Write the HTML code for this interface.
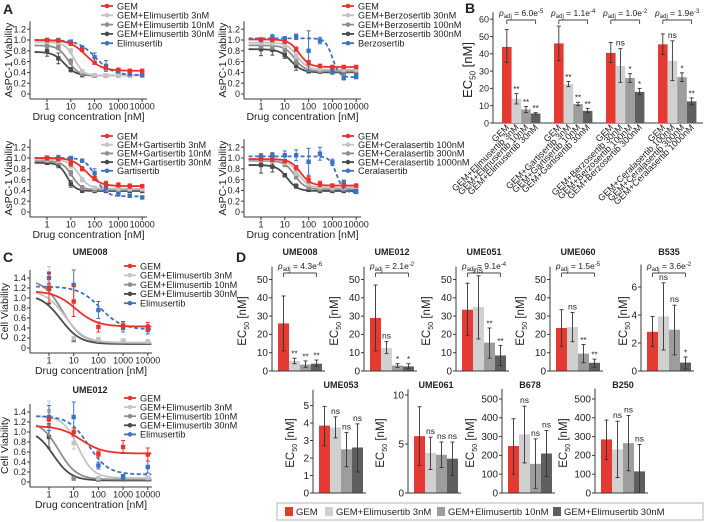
<!DOCTYPE html>
<html><head><meta charset="utf-8">
<style>
html,body{margin:0;padding:0;background:#fff;}
svg{display:block;font-family:"Liberation Sans",Arial,sans-serif;}
</style></head>
<body>
<svg id="fig" width="705" height="522" viewBox="0 0 705 522" xmlns="http://www.w3.org/2000/svg"></svg>
<script>
// ---------- DATA ----------
const concA = [1,3,10,30,100,300,1000,3000,10000];
const concC = [1,10,100,1000,10000];
const xTickVals = [1,10,100,1000,10000];
const yTicksA = [0,0.2,0.4,0.6,0.8,1.0,1.2];
const yTicksC = [0,0.2,0.4,0.6,0.8,1.0,1.2,1.4];

// A1 Elimusertib
const a1Names = ["GEM","GEM+Elimusertib 3nM","GEM+Elimusertib 10nM","GEM+Elimusertib 30nM","Elimusertib"];
const a1Top = [1.0,0.96,0.9,0.78,1.0];
const a1Bot = [0.43,0.34,0.34,0.34,0.35];
const a1EC = [44,14,7.8,5.5,110];
const a1Hill = [1.3,2.2,2.0,1.8,1.2];
const a1Vals = [[1.0,0.99,0.93,0.82,0.58,0.48,0.45,0.43,0.43],[0.97,0.95,0.8,0.42,0.35,0.34,0.34,0.34,0.34],[0.9,0.87,0.6,0.37,0.34,0.34,0.34,0.34,0.34],[0.8,0.66,0.45,0.35,0.34,0.34,0.34,0.34,0.34],[1.0,1.0,0.97,0.86,0.68,0.52,0.42,0.37,0.35]];
const a1Err = [[.03,.02,.03,.03,.03,.03,.02,.02,.02],[.03,.03,.04,.03,.02,.02,.02,.02,.02],[.04,.05,.05,.03,.02,.02,.02,.02,.02],[.1,.1,.04,.03,.02,.02,.02,.02,.02],[.02,.02,.02,.03,.08,.1,.02,.02,.02]];
// A2 Berzosertib
const a2Names = ["GEM","GEM+Berzosertib 30nM","GEM+Berzosertib 100nM","GEM+Berzosertib 300nM","Berzosertib"];
const a2Top = [1.01,0.95,0.9,0.83,1.03];
const a2Bot = [0.5,0.45,0.42,0.4,0.31];
const a2EC = [40,33,26,18,1000];
const a2Hill = [2,2,2,1.8,3];
const a2Vals = [[1.01,1.0,0.97,0.83,0.58,0.52,0.5,0.5,0.5],[0.95,0.94,0.9,0.7,0.5,0.46,0.45,0.45,0.45],[0.9,0.88,0.82,0.6,0.45,0.42,0.42,0.42,0.42],[0.83,0.82,0.72,0.52,0.42,0.41,0.4,0.4,0.4],[1.0,1.05,1.03,1.06,0.8,0.99,0.42,0.3,0.32]];
const a2Err = [[.03,.03,.03,.04,.04,.03,.03,.03,.03],[.04,.04,.04,.05,.03,.03,.03,.03,.03],[.05,.05,.05,.05,.03,.03,.03,.03,.03],[.12,.1,.06,.08,.03,.03,.03,.03,.03],[.03,.05,.03,.05,.37,.06,.04,.04,.04]];
// A3 Gartisertib
const a3Names = ["GEM","GEM+Gartisertib 3nM","GEM+Gartisertib 10nM","GEM+Gartisertib 30nM","Gartisertib"];
const a3Top = [1.0,0.97,0.94,0.91,1.0];
const a3Bot = [0.48,0.43,0.41,0.39,0.29];
const a3EC = [46,22,11,7,110];
const a3Hill = [1.5,2,2.2,2.5,2];
const a3Vals = [[1.0,0.98,0.9,0.8,0.62,0.52,0.5,0.48,0.48],[0.97,0.95,0.85,0.6,0.45,0.43,0.43,0.43,0.43],[0.95,0.92,0.72,0.45,0.41,0.41,0.41,0.41,0.41],[0.91,0.88,0.52,0.4,0.39,0.39,0.39,0.39,0.39],[1.0,1.0,1.0,0.95,0.72,0.45,0.33,0.3,0.27]];
const a3Err = [[.04,.03,.05,.04,.04,.05,.04,.04,.03],[.03,.03,.04,.04,.03,.03,.03,.03,.03],[.03,.04,.05,.04,.03,.03,.03,.03,.03],[.03,.06,.06,.04,.03,.03,.03,.03,.03],[.02,.05,.02,.02,.08,.04,.02,.02,.02]];
// A4 Ceralasertib
const a4Names = ["GEM","GEM+Ceralasertib 100nM","GEM+Ceralasertib 300nM","GEM+Ceralasertib 1000nM","Ceralasertib"];
const a4Top = [0.98,0.97,0.95,0.87,1.03];
const a4Bot = [0.49,0.45,0.42,0.39,0.36];
const a4EC = [45,36,26,12.5,1500];
const a4Hill = [2,2,2,2,3];
const a4Vals = [[0.98,0.97,0.94,0.82,0.6,0.52,0.49,0.49,0.49],[0.97,0.96,0.92,0.72,0.52,0.46,0.45,0.45,0.45],[0.95,0.94,0.88,0.65,0.46,0.42,0.42,0.42,0.42],[0.87,0.84,0.68,0.48,0.41,0.39,0.39,0.39,0.39],[1.03,1.05,1.05,1.05,0.93,1.08,0.92,0.55,0.38]];
const a4Err = [[.03,.03,.03,.04,.06,.05,.03,.03,.03],[.03,.03,.04,.04,.04,.03,.03,.03,.03],[.03,.03,.04,.04,.04,.03,.03,.03,.03],[.15,.1,.03,.04,.03,.03,.03,.03,.03],[.05,.05,.08,.1,.25,.12,.06,.04,.04]];
// C UME008
const c1Names = ["GEM","GEM+Elimusertib 3nM","GEM+Elimusertib 10nM","GEM+Elimusertib 30nM","Elimusertib"];
const c1Top = [1.14,1.15,1.38,1.07,1.23];
const c1Bot = [0.43,0.11,0.1,0.08,0.37];
const c1EC = [12,4.5,3.5,3,120];
const c1Hill = [1,1.1,1.1,1.1,1];
const c1Vals = [[1.2,0.93,0.42,0.45,0.43],[1.28,0.2,0.18,0.15,0.13],[1.2,0.17,0.15,0.14,0.13],[1.18,0.16,0.13,0.13,0.12],[1.4,1.26,0.76,0.42,0.36]];
const c1Err = [[.3,.3,.1,.08,.08],[.35,.03,.03,.03,.03],[.3,.03,.03,.03,.03],[.3,.03,.03,.03,.03],[.12,.3,.17,.1,.08]];
// C UME012
const c2Top = [1.12,1.32,1.22,1.05,1.32];
const c2Bot = [0.57,0.08,0.05,0.03,0.15];
const c2EC = [20,15,2.5,1.5,40];
const c2Hill = [1,1.4,1.2,1.2,1.1];
const c2Vals = [[1.25,1.0,0.56,0.7,0.55],[1.42,0.78,0.08,0.1,0.08],[1.3,0.07,0.06,0.1,0.08],[0.9,0.07,0.05,0.06,0.06],[1.28,1.3,0.33,0.1,0.3]];
const c2Err = [[.08,.08,.06,.13,.13],[.2,.12,.03,.03,.03],[.15,.03,.03,.03,.03],[.22,.03,.03,.03,.03],[.25,.3,.07,.05,.12]];

// B bars
const bLabels = [["GEM","GEM+Elimusertib 3nM","GEM+Elimusertib 10nM","GEM+Elimusertib 30nM"],["GEM","GEM+Gartisertib 3nM","GEM+Gartisertib 10nM","GEM+Gartisertib 30nM"],["GEM","GEM+Berzosertib 30nM","GEM+Berzosertib 100nM","GEM+Berzosertib 300nM"],["GEM","GEM+Ceralasertib 100nM","GEM+Ceralasertib 300nM","GEM+Ceralasertib 1000nM"]];
const bVals = [[44,14,7.8,5.5],[46,22.5,11,7],[40.5,33,26,18],[45.5,36,26.5,12.5]];
const bLo = [[35,11,6,5],[36,21,10,6],[35,23.5,23.5,16.5],[39.5,24.5,24,10.5]];
const bHi = [[54,17,9.5,6],[56,24,12,8.5],[46.5,43,28.5,20],[51.5,47.5,29,14.5]];
const bSig = [["","**","**","**"],["","**","**","**"],["","ns","*","*"],["","ns","*","**"]];
const bP = [["6.0","-5"],["1.1","-4"],["1.0","-2"],["1.9","-3"]];
const bTicks = [0,10,20,30,40,50,60];

// D bars
const dTitles = ["UME008","UME012","UME051","UME060","B535","UME053","UME061","B678","B250"];
const dVals = [[26,5.5,3.5,4],[29,12.5,3,2.5],[33.5,35,15.5,8.5],[23.5,24,9.5,4.5],[2.8,3.9,2.95,0.6],[3.85,3.75,2.5,2.6],[5.8,4.1,3.9,3.5],[250,312,155,210],[285,232,265,115]];
const dLo = [[11,4,2,2.5],[11,9.5,2,1.5],[19.5,17.5,7,3],[13.5,16,4.5,2],[1.75,1.5,1.15,0.15],[2.7,3.15,1.5,1.2],[2.8,2.4,2.6,1.8],[100,160,25,88],[178,82,118,0]];
const dHi = [[41,7,5.5,6],[47,16,4,4],[48,52,23.5,14],[33.5,32,14.5,6.5],[3.9,6.3,4.7,1.0],[4.95,4.35,3.45,3.95],[8.8,5.7,5.2,5.2],[395,462,288,332],[388,382,412,258]];
const dSig = [["","**","**","**"],["","ns","*","*"],["","ns","**","**"],["","ns","**","**"],["","ns","ns","*"],["","ns","ns","ns"],["","ns","ns","ns"],["","ns","ns","ns"],["","ns","ns","ns"]];
const dP = [["4.3","-6"],["2.1","-2"],["9.1","-4"],["1.5","-5"],["3.6","-2"],null,null,null,null];
const dTicks = [[0,10,20,30,40,50],[0,10,20,30,40,50],[0,10,20,30,40,50],[0,10,20,30,40,50],[0,2,4,6],[0,1,2,3,4,5],[0,5,10],[0,100,200,300,400,500],[0,100,200,300,400,500]];
const legendNames = ["GEM","GEM+Elimusertib 3nM","GEM+Elimusertib 10nM","GEM+Elimusertib 30nM"];

// ---------- DRAWING ----------
const NS = "http://www.w3.org/2000/svg";
const svg = document.getElementById("fig");
const curveCols = ["#e8332c","#c4c4c4","#8e8e8e","#4a4a4a","#3c72c2"];
const barCols = ["#e53a32","#d0d0d0","#9d9d9d","#5f5f5f"];
const AX = "#3a3a3a";

function mk(tag, attrs, parent) {
  const el = document.createElementNS(NS, tag);
  for (const k in attrs) el.setAttribute(k, attrs[k]);
  (parent || svg).appendChild(el);
  return el;
}
function line(x1,y1,x2,y2,stroke,w,name,parent){
  const el = mk("line",{x1:x1,y1:y1,x2:x2,y2:y2,stroke:stroke,"stroke-width":w},parent);
  
  
  return el;
}
function txt(x,y,s,size,anchor,name,extra){
  const el = mk("text",Object.assign({x:x,y:y,"font-size":size,"text-anchor":anchor||"start",fill:"#222"},extra||{}));
  el.textContent = s;
  
  
  return el;
}
function grp(name){
  const g = mk("g",{});
  
  
  return g;
}
function logistic(c,t,b,e,h){ return b + (t-b)/(1+Math.pow(c/e,h)); }

function curvePanel(cfg){
  const g = grp(cfg.name);
  const xs = c => cfg.x1 + Math.log10(c)*cfg.dec;
  const ys = v => cfg.y0 - v*cfg.ppu;
  const bottom = cfg.y0 + 5;
  const topY = ys(cfg.yTicks[cfg.yTicks.length-1]) - 8;
  line(cfg.xLeft, topY, cfg.xLeft, bottom, AX, 1, "y-axis", g);
  line(cfg.xLeft, bottom, cfg.xRight, bottom, AX, 1, "x-axis", g);
  cfg.yTicks.forEach(v=>{
    line(cfg.xLeft-3, ys(v), cfg.xLeft, ys(v), AX, 1, "y-tick", g);
    txt(cfg.xLeft-4, ys(v)+3.2, v===0 ? "0" : v.toFixed(1), 9, "end", "y-tick-label");
  });
  xTickVals.forEach(c=>{
    line(xs(c), bottom, xs(c), bottom+3, AX, 1, "x-tick", g);
    txt(xs(c), bottom+10.5, String(c), 9, "middle", "x-tick-label");
  });
  txt((cfg.xLeft+cfg.xRight)/2, bottom+21, "Drug concentration [nM]", 10.5, "middle", "x-axis-title");
  const yl = txt(cfg.ylabX, (topY+bottom)/2, cfg.ylabel, 10.5, "middle", "y-axis-title");
  yl.setAttribute("transform", `rotate(-90 ${cfg.ylabX} ${(topY+bottom)/2})`);
  const order = [3,2,1,4,0];
  order.forEach(i=>{
    const col = curveCols[i];
    let d = "";
    for (let k=0;k<=120;k++){
      const lc = Math.log10(0.3) + k*(Math.log10(cfg.xMax)-Math.log10(0.3))/120;
      const c = Math.pow(10,lc);
      d += (k?"L":"M") + xs(c).toFixed(2) + "," + ys(logistic(c,cfg.top[i],cfg.bot[i],cfg.ec[i],cfg.hill[i])).toFixed(2);
    }
    const p = mk("path",{d:d,fill:"none",stroke:col,"stroke-width":1.8,"stroke-dasharray": i===4?"4,2.5":"none"},g);
    
    
    cfg.conc.forEach((c,j)=>{
      const v = cfg.vals[i][j], e = cfg.errs[i][j];
      const x = xs(c);
      line(x, ys(v-e), x, ys(v+e), col, 1, "error-bar", g);
      line(x-2, ys(v-e), x+2, ys(v-e), col, 1, "error-cap", g);
      line(x-2, ys(v+e), x+2, ys(v+e), col, 1, "error-cap", g);
      const pt = mk("rect",{x:x-2.2,y:ys(v)-2.2,width:4.4,height:4.4,fill:col},g);
      
      
    });
  });
  cfg.names.forEach((n,i)=>{
    const y = cfg.legY + i*cfg.legStep;
    const col = curveCols[i];
    line(cfg.legX-6, y, cfg.legX+6, y, col, 1.8, "legend-line", g);
    const pt = mk("circle",{cx:cfg.legX,cy:y,r:2.3,fill:col},g);
    
    
    txt(cfg.legX+10, y+3.3, n, 9.2, "start", "legend-entry");
  });
}

function ptext(x,y,p,name){
  const t = txt(x,y,"",8.5,"middle",name);
  const a = mk("tspan",{"font-style":"italic"},t); a.textContent="p";
  const b = mk("tspan",{"font-size":6,dy:2}, t); b.textContent="adj";
  const c = mk("tspan",{dy:-2}, t); c.textContent=" = "+p[0]+"e";
  const d = mk("tspan",{"font-size":6,dy:-3}, t); d.textContent=p[1];
}
function ec50Label(x,cy,size,name){
  const t = txt(x,cy,"",size,"middle",name);
  const a = mk("tspan",{},t); a.textContent="EC";
  const b = mk("tspan",{"font-size":size*0.62,dy:size*0.25},t); b.textContent="50";
  const c = mk("tspan",{dy:-size*0.25},t); c.textContent=" [nM]";
  t.setAttribute("transform",`rotate(-90 ${x} ${cy})`);
}

function barGroup(g, start, bw, y0, ppu, vals, lo, hi, sig){
  const ys = v => y0 - v*ppu;
  vals.forEach((v,i)=>{
    const x = start + i*bw;
    const r = mk("rect",{x:x,y:ys(v),width:bw,height:v*ppu,fill:barCols[i]},g);
    
    
    const cx = x + bw/2;
    line(cx, ys(lo[i]), cx, ys(hi[i]), "#333", 0.9, "error-bar", g);
    line(cx-2, ys(lo[i]), cx+2, ys(lo[i]), "#333", 0.9, "error-cap", g);
    line(cx-2, ys(hi[i]), cx+2, ys(hi[i]), "#333", 0.9, "error-cap", g);
    if (sig[i]) txt(cx, ys(hi[i]) - (sig[i]==="ns"?3:1.5), sig[i], sig[i]==="ns"?8.5:8, "middle", "significance-label");
  });
}
function yAxisBars(g, ax, y0, ppu, ticks, top, size){
  const ys = v => y0 - v*ppu;
  line(ax, ys(top), ax, y0, AX, 1, "y-axis", g);
  ticks.forEach(v=>{
    line(ax-3, ys(v), ax, ys(v), AX, 1, "y-tick", g);
    txt(ax-4, ys(v)+3.3, String(v), size, "end", "y-tick-label");
  });
}

// Panel A
txt(3,14,"A",14,"start","panel-label-a",{"font-weight":"bold"});
curvePanel({name:"panel-a-elimusertib",x1:47,dec:23.8,y0:94,ppu:54,xLeft:30,xRight:147,xMax:12000,yTicks:yTicksA,conc:concA,names:a1Names,top:a1Top,bot:a1Bot,ec:a1EC,hill:a1Hill,vals:a1Vals,errs:a1Err,legX:107,legY:6,legStep:9.3,ylabel:"AsPC-1 Viability",ylabX:12});
curvePanel({name:"panel-a-berzosertib",x1:261,dec:23.8,y0:94,ppu:54,xLeft:244,xRight:361,xMax:12000,yTicks:yTicksA,conc:concA,names:a2Names,top:a2Top,bot:a2Bot,ec:a2EC,hill:a2Hill,vals:a2Vals,errs:a2Err,legX:348,legY:6,legStep:9.3,ylabel:"AsPC-1 Viability",ylabX:226});
curvePanel({name:"panel-a-gartisertib",x1:47,dec:23.8,y0:212,ppu:54,xLeft:30,xRight:147,xMax:12000,yTicks:yTicksA,conc:concA,names:a3Names,top:a3Top,bot:a3Bot,ec:a3EC,hill:a3Hill,vals:a3Vals,errs:a3Err,legX:107,legY:136,legStep:8.7,ylabel:"AsPC-1 Viability",ylabX:12});
curvePanel({name:"panel-a-ceralasertib",x1:261,dec:23.8,y0:212,ppu:54,xLeft:244,xRight:361,xMax:12000,yTicks:yTicksA,conc:concA,names:a4Names,top:a4Top,bot:a4Bot,ec:a4EC,hill:a4Hill,vals:a4Vals,errs:a4Err,legX:348,legY:136,legStep:8.7,ylabel:"AsPC-1 Viability",ylabX:226});

// Panel C
txt(3,262,"C",14,"start","panel-label-c",{"font-weight":"bold"});
txt(90,255,"UME008",9,"middle","panel-c-title-ume008",{"font-weight":"bold"});
curvePanel({name:"panel-c-ume008",x1:49,dec:24.7,y0:348,ppu:50,xLeft:30,xRight:152,xMax:14000,yTicks:yTicksC,conc:concC,names:c1Names,top:c1Top,bot:c1Bot,ec:c1EC,hill:c1Hill,vals:c1Vals,errs:c1Err,legX:130,legY:266,legStep:9.3,ylabel:"Cell Viability",ylabX:8});
txt(90,393,"UME012",9,"middle","panel-c-title-ume012",{"font-weight":"bold"});
curvePanel({name:"panel-c-ume012",x1:49,dec:24.7,y0:482,ppu:50,xLeft:30,xRight:152,xMax:14000,yTicks:yTicksC,conc:concC,names:c1Names,top:c2Top,bot:c2Bot,ec:c2EC,hill:c2Hill,vals:c2Vals,errs:c2Err,legX:130,legY:398,legStep:9.1,ylabel:"Cell Viability",ylabX:8});

// Panel B
txt(465,13,"B",14,"start","panel-label-b",{"font-weight":"bold"});
(function(){
  const g = grp("panel-b-ec50-bars");
  const y0 = 123, ppu = 1.73, bw = 9.6;
  yAxisBars(g, 493, y0, ppu, bTicks, 64, 9);
  line(493, y0, 703, y0, AX, 1, "x-axis", g);
  ec50Label(472, 70, 13, "y-axis-title");
  bVals.forEach((vals,gi)=>{
    const start = 502 + gi*52;
    barGroup(g, start, bw, y0, ppu, vals, bLo[gi], bHi[gi], bSig[gi]);
    const x1 = start + bw/2, x2 = start + 3.5*bw;
    line(x1, 20, x2, 20, "#444", 0.9, "bracket", g);
    line(x1, 20, x1, 24, "#444", 0.9, "bracket-tick", g);
    line(x2, 20, x2, 24, "#444", 0.9, "bracket-tick", g);
    ptext((x1+x2)/2, 16, bP[gi], "p-value-label");
    bLabels[gi].forEach((lab,i)=>{
      const cx = start + i*bw + bw/2 + 3, cy = 128;
      const t = txt(cx, cy, lab, 9, "end", "x-tick-label");
      t.setAttribute("transform", `rotate(-45 ${cx} ${cy})`);
    });
  });
})();

// Panel D
txt(236,262,"D",14,"start","panel-label-d",{"font-weight":"bold"});
const dAxisX = [272,364,456,550,641,313,408,502,595];
const dY0 = [371,371,371,371,371,493,493,493,493];
const dPpu = [1.83,1.83,1.83,1.83,14,17.5,9.8,0.188,0.188];
const dTop = [57,57,57,57,7.6,5.9,10.6,555,555];
const dLabOff = [26,26,26,26,14,19,24,28,28];
dTitles.forEach((title,k)=>{
  const g = grp("panel-d-" + title.toLowerCase());
  const ax = dAxisX[k], y0 = dY0[k], ppu = dPpu[k], bw = 11;
  yAxisBars(g, ax, y0, ppu, dTicks[k], dTop[k], 10);
  const start = ax + 6;
  barGroup(g, start, bw, y0, ppu, dVals[k], dLo[k], dHi[k], dSig[k]);
  line(ax, y0, start + 4*bw + 3, y0, AX, 1, "x-axis", g);
  ec50Label(ax - dLabOff[k], y0 - 50, 11.5, "y-axis-title");
  const titleY = k < 5 ? 255 : 388;
  txt(start + 2*bw, titleY, title, 9, "middle", "subplot-title", {"font-weight":"bold"});
  if (dP[k]) {
    const x1 = start + bw/2, x2 = start + 3.5*bw;
    line(x1, 273, x2, 273, "#444", 0.9, "bracket", g);
    line(x1, 273, x1, 277, "#444", 0.9, "bracket-tick", g);
    line(x2, 273, x2, 277, "#444", 0.9, "bracket-tick", g);
    ptext((x1+x2)/2, 269, dP[k], "p-value-label");
  }
});

// Bottom legend
(function(){
  const g = grp("panel-d-legend");
  const r = mk("rect",{x:277,y:503,width:426,height:17,fill:"#fff",stroke:"#b5b5b5","stroke-width":1},g);
  
  
  const sx = [285,325,437,553];
  legendNames.forEach((n,i)=>{
    const s = mk("rect",{x:sx[i],y:507,width:8,height:9,fill:barCols[i]},g);
    
    
    txt(sx[i]+11, 515, n, 9.5, "start", "legend-entry");
  });
})();
</script>
</body></html>
